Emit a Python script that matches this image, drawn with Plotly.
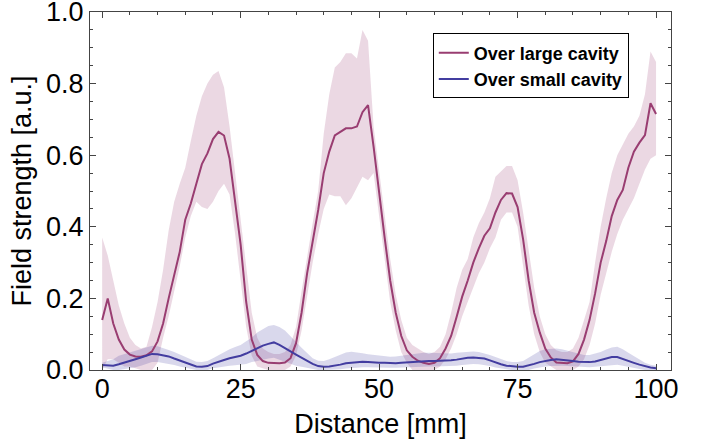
import numpy as np
import plotly.graph_objects as go

# Distance axis (mm), one sample per mm
distance = list(range(0, 101))

large_mean = [
    0.14, 0.20, 0.13, 0.085, 0.057, 0.043, 0.038, 0.037, 0.041, 0.052,
    0.08, 0.13, 0.20, 0.265, 0.33, 0.42, 0.465, 0.52, 0.575, 0.605,
    0.645, 0.665, 0.655, 0.59, 0.47, 0.35, 0.19, 0.085, 0.042, 0.025,
    0.02, 0.019, 0.019, 0.021, 0.033, 0.075, 0.16, 0.27, 0.355, 0.447,
    0.55, 0.61, 0.655, 0.665, 0.675, 0.675, 0.68, 0.72, 0.74, 0.624,
    0.505, 0.37, 0.25, 0.16, 0.095, 0.055, 0.037, 0.026, 0.02, 0.017,
    0.02, 0.033, 0.06, 0.095, 0.149, 0.205, 0.25, 0.30, 0.34, 0.375,
    0.396, 0.44, 0.475, 0.494, 0.493, 0.455, 0.365, 0.25, 0.16, 0.105,
    0.06, 0.035, 0.021, 0.019, 0.019, 0.024, 0.045, 0.085, 0.14, 0.214,
    0.30, 0.36, 0.43, 0.475, 0.503, 0.565, 0.61, 0.635, 0.656, 0.745,
    0.715,
]
large_upper = [
    0.37, 0.32, 0.25, 0.18, 0.13, 0.09, 0.07, 0.06, 0.065, 0.12,
    0.19, 0.28, 0.39, 0.47, 0.52, 0.565, 0.64, 0.71, 0.765, 0.80,
    0.825, 0.835, 0.79, 0.68, 0.55, 0.42, 0.28, 0.16, 0.09, 0.06,
    0.05, 0.045, 0.045, 0.05, 0.07, 0.12, 0.22, 0.32, 0.41, 0.50,
    0.66, 0.77, 0.845, 0.86, 0.885, 0.885, 0.87, 0.95, 0.92, 0.68,
    0.56, 0.43, 0.31, 0.21, 0.14, 0.09, 0.07, 0.06, 0.05, 0.045,
    0.05, 0.065, 0.10, 0.16, 0.23, 0.28, 0.31, 0.37, 0.41, 0.44,
    0.48, 0.54, 0.555, 0.57, 0.57, 0.53, 0.44, 0.33, 0.23, 0.15,
    0.10, 0.07, 0.055, 0.05, 0.05, 0.06, 0.09, 0.14, 0.19, 0.30,
    0.40, 0.48, 0.55, 0.60, 0.63, 0.66, 0.68, 0.71, 0.77, 0.89,
    0.86,
]
large_lower = [
    0.0, 0.03, 0.03, 0.02, 0.01, 0.01, 0.005, 0.0, 0.0, 0.0,
    0.02, 0.09, 0.15, 0.22, 0.29, 0.37, 0.43, 0.47, 0.455, 0.45,
    0.47, 0.50, 0.52, 0.49, 0.38, 0.25, 0.12, 0.04, 0.01, 0.005,
    0.0, 0.0, 0.0, 0.0, 0.01, 0.04, 0.11, 0.21, 0.30, 0.38,
    0.45, 0.49, 0.485, 0.485, 0.46, 0.48, 0.51, 0.54, 0.53, 0.55,
    0.43, 0.31, 0.19, 0.11, 0.05, 0.02, 0.0, 0.0, 0.0, 0.0,
    0.0, 0.01, 0.03, 0.06, 0.10, 0.15, 0.19, 0.23, 0.27, 0.30,
    0.34, 0.37, 0.42, 0.44, 0.44, 0.40, 0.29, 0.18, 0.10, 0.05,
    0.02, 0.01, 0.0, 0.0, 0.0, 0.0, 0.01, 0.03, 0.07, 0.13,
    0.21, 0.27, 0.33, 0.38, 0.42, 0.45, 0.48, 0.52, 0.56, 0.59,
    0.60,
]

small_mean = [
    0.014, 0.013, 0.012, 0.016, 0.02, 0.025, 0.03, 0.035, 0.04, 0.045,
    0.044, 0.041, 0.038, 0.032, 0.026, 0.02, 0.014, 0.01, 0.009, 0.011,
    0.018, 0.024, 0.028, 0.033, 0.036, 0.04, 0.046, 0.053, 0.062, 0.068,
    0.073, 0.077, 0.07, 0.062, 0.052, 0.043, 0.034, 0.026, 0.017, 0.011,
    0.009, 0.01, 0.012, 0.015, 0.019, 0.021, 0.023, 0.023, 0.022, 0.02,
    0.02, 0.02, 0.019, 0.019, 0.02, 0.021, 0.023, 0.025, 0.025, 0.025,
    0.025, 0.025, 0.025, 0.027, 0.029, 0.032, 0.034, 0.035, 0.034, 0.032,
    0.027, 0.021, 0.016, 0.012, 0.01, 0.009, 0.009, 0.012, 0.017, 0.022,
    0.026, 0.028, 0.03, 0.029, 0.027, 0.025, 0.023, 0.022, 0.022, 0.024,
    0.028, 0.032, 0.036, 0.036, 0.03, 0.025, 0.02, 0.015, 0.01, 0.007,
    0.005,
]
small_upper = [
    0.02, 0.025, 0.03, 0.04, 0.045, 0.05, 0.055, 0.06, 0.065, 0.068,
    0.066, 0.062, 0.056, 0.05, 0.043, 0.035, 0.028, 0.023, 0.022, 0.025,
    0.033, 0.042, 0.05, 0.058, 0.064, 0.07, 0.08, 0.09, 0.105, 0.115,
    0.123, 0.126, 0.12, 0.11, 0.095, 0.078, 0.062, 0.046, 0.033, 0.026,
    0.025, 0.03, 0.037, 0.044, 0.049, 0.051, 0.05, 0.047, 0.044, 0.042,
    0.04, 0.038, 0.037, 0.038, 0.04, 0.042, 0.045, 0.047, 0.048, 0.048,
    0.047, 0.046, 0.045, 0.046, 0.048, 0.05, 0.052, 0.052, 0.05, 0.047,
    0.042, 0.036, 0.03, 0.025, 0.022, 0.022, 0.025, 0.035, 0.045, 0.053,
    0.058, 0.06, 0.06, 0.058, 0.054, 0.05, 0.045, 0.042, 0.042, 0.045,
    0.05, 0.057, 0.063, 0.065, 0.058, 0.048, 0.038, 0.028, 0.02, 0.015,
    0.012,
]
small_lower = [
    0.008, 0.005, 0.0, 0.0, 0.002, 0.005, 0.008, 0.012, 0.018, 0.022,
    0.022, 0.02, 0.018, 0.014, 0.01, 0.006, 0.003, 0.0, 0.0, 0.0,
    0.005, 0.008, 0.01, 0.012, 0.013, 0.014, 0.017, 0.022, 0.026, 0.03,
    0.032, 0.034, 0.028, 0.022, 0.016, 0.012, 0.009, 0.006, 0.003, 0.0,
    0.0, 0.0, 0.0, 0.002, 0.004, 0.006, 0.008, 0.008, 0.008, 0.007,
    0.007, 0.007, 0.006, 0.006, 0.007, 0.008, 0.009, 0.01, 0.01, 0.01,
    0.01, 0.01, 0.01, 0.011, 0.012, 0.014, 0.016, 0.017, 0.016, 0.014,
    0.011, 0.007, 0.004, 0.002, 0.0, 0.0, 0.0, 0.0, 0.004, 0.008,
    0.01, 0.011, 0.012, 0.012, 0.011, 0.01, 0.009, 0.008, 0.008, 0.009,
    0.011, 0.013, 0.015, 0.015, 0.012, 0.009, 0.006, 0.003, 0.0, 0.0,
    0.0,
]

x_ticks = [0, 25, 50, 75, 100]
y_ticks = [0.0, 0.2, 0.4, 0.6, 0.8, 1.0]

LARGE = "#993D71"
SMALL = "#433DA0"
FONT = "Liberation Sans, Arial, sans-serif"

fig = go.Figure()

def band(upper, lower, color):
    fig.add_trace(go.Scatter(x=distance, y=lower, mode="lines", line=dict(width=0),
                             showlegend=False, hoverinfo="skip"))
    fig.add_trace(go.Scatter(x=distance, y=upper, mode="lines", line=dict(width=0),
                             fill="tonexty", fillcolor=color, showlegend=False,
                             hoverinfo="skip"))

band(large_upper, large_lower, "rgba(153,61,113,0.2)")
band(small_upper, small_lower, "rgba(67,61,160,0.2)")

fig.add_trace(go.Scatter(x=distance, y=large_mean, mode="lines",
                         line=dict(color=LARGE, width=2), name="Over large cavity"))
fig.add_trace(go.Scatter(x=distance, y=small_mean, mode="lines",
                         line=dict(color=SMALL, width=2), name="Over small cavity"))

axis_common = dict(
    showline=True, linecolor="#444", linewidth=1, mirror="ticks",
    ticks="inside", tickcolor="#444", ticklen=6, tickwidth=1,
    showgrid=False, zeroline=False, ticklabeloverflow="allow",
    tickfont=dict(family=FONT, size=27, color="black"),
)

fig.update_xaxes(
    range=[-2.2, 102.7], tickvals=x_ticks, ticktext=[str(v) for v in x_ticks],
    minor=dict(dtick=5, tick0=0, ticks="inside", ticklen=3, tickcolor="#444"),
    ticklabelstandoff=-5,
    title=dict(text="Distance [mm]", font=dict(family=FONT, size=27, color="black"),
               standoff=10),
    **axis_common,
)
fig.update_yaxes(
    range=[0, 1.0], tickvals=y_ticks, ticktext=[f"{v:.1f}" for v in y_ticks],
    minor=dict(dtick=0.05, tick0=0, ticks="inside", ticklen=3, tickcolor="#444"),
    title=dict(text="Field strength [a.u.]", font=dict(family=FONT, size=27, color="black"),
               standoff=6),
    **axis_common,
)

fig.update_layout(
    width=707, height=446,
    margin=dict(l=90, r=36, t=12, b=76, autoexpand=False),
    plot_bgcolor="white", paper_bgcolor="white",
    legend=dict(
        x=0.59, y=0.94, xanchor="left", yanchor="top", traceorder="normal",
        bgcolor="white", bordercolor="black", borderwidth=1,
        font=dict(family=FONT, size=18, color="black", weight="bold"),
        tracegroupgap=0, itemwidth=30,
    ),
)

fig.write_html("out.html", config={"displayModeBar": False},
               post_script="document.body.style.margin='0';")
